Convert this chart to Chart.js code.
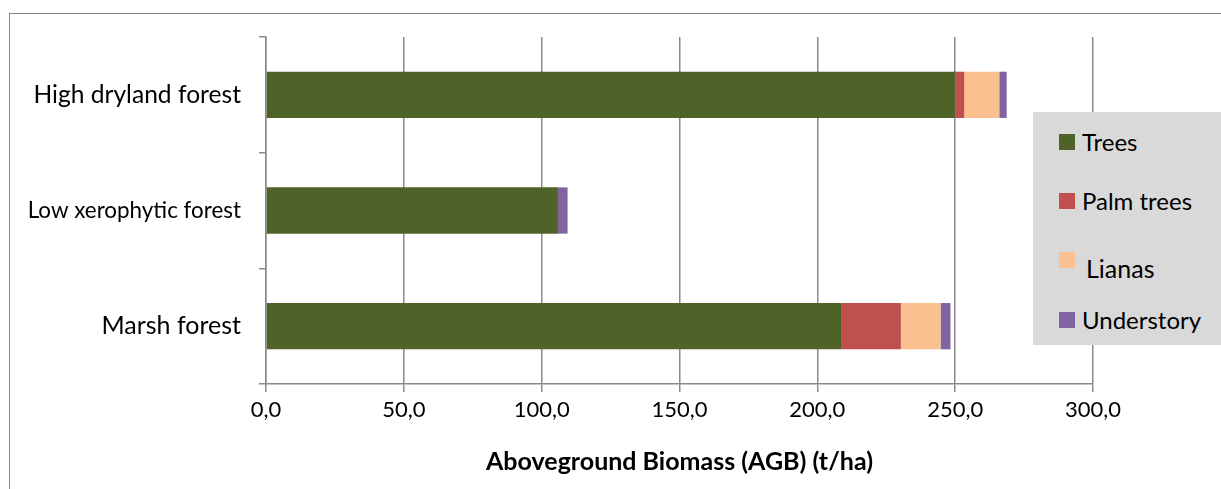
<!DOCTYPE html>
<html>
<head>
<meta charset="utf-8">
<script src="https://cdn.jsdelivr.net/npm/chart.js@4/dist/chart.umd.min.js"></script>
<style>
  html, body { margin: 0; padding: 0; background: #fff; }
  #wrap { position: relative; width: 1221px; height: 489px; overflow: hidden; }
  #frame { position: absolute; left: 9px; top: 13px; width: 1220px; height: 490px; border: 1px solid #868686; box-sizing: border-box; }
  #legend { position: absolute; left: 1033px; top: 112px; width: 190px; height: 233px; background: #d9d9d9; font-family: Lato, "Open Sans", sans-serif; color: #000; }
  .sw { position: absolute; left: 26px; width: 16px; height: 16px; }
  .lbl { position: absolute; line-height: 1; white-space: nowrap; }
</style>
</head>
<body>
<div id="wrap">
  <canvas id="chart" width="1221" height="489"></canvas>
  <div id="frame"></div>
  <div id="legend"></div>
</div>
<script>
const categories = ["High dryland forest", "Low xerophytic forest", "Marsh forest"];
const seriesNames = ["Trees", "Palm trees", "Lianas", "Understory"];
const trees = [250.0, 105.9, 208.6];
const palmTrees = [3.3, 0, 21.7];
const lianas = [12.7, 0, 14.4];
const understory = [2.7, 3.5, 3.6];
const colors = ["#4F6228", "#C0504D", "#FAC090", "#8064A2"];
const xTicks = [0, 50, 100, 150, 200, 250, 300];

const FONT = "Lato, 'Open Sans', sans-serif";
const values = [trees, palmTrees, lianas, understory];
const categorySizes = [24.6, 22.4, 25];

new Chart(document.getElementById("chart"), {
    type: "bar",
    data: {
        labels: categories,
        datasets: seriesNames.map((name, i) => ({
            label: name,
            data: values[i],
            backgroundColor: colors[i],
            borderWidth: 0,
            barPercentage: 0.8,
            categoryPercentage: 0.5
        }))
    },
    options: {
        indexAxis: "y",
        responsive: false,
        animation: false,
        layout: { padding: { top: 37, right: 128, left: 0, bottom: 0 } },
        plugins: { legend: { display: false }, tooltip: { enabled: false } },
        scales: {
            x: {
                stacked: true,
                min: 0,
                max: 300,
                afterBuildTicks: axis => { axis.ticks = xTicks.map(v => ({ value: v })); },
                afterFit: axis => { axis.height = 105; },
                grid: { color: "#8a8a8a", lineWidth: 1.5, tickLength: 8 },
                border: { color: "#8a8a8a", width: 1.5 },
                ticks: {
                    color: "#000",
                    padding: 5,
                    font: { family: FONT, size: 22 },
                    callback: v => v.toFixed(1).replace(".", ",")
                },
                title: {
                    display: true,
                    text: "Aboveground Biomass (AGB) (t/ha)",
                    color: "#000",
                    font: { family: FONT, size: 25, weight: "bold" },
                    padding: { top: 4, bottom: 12 }
                }
            },
            y: {
                stacked: true,
                afterFit: axis => { axis.width = 266; },
                grid: { drawOnChartArea: false, color: "#8a8a8a", lineWidth: 1.5, tickLength: 7, offset: true },
                border: { color: "#8a8a8a", width: 1.5 },
                ticks: {
                    color: "#000",
                    padding: 18,
                    font: ctx => ({ family: FONT, size: categorySizes[ctx.index] || 24 })
                }
            }
        }
    }
});

// legend box on grey background
const legend = document.getElementById("legend");
const swatchTops = [22, 81, 140, 200];
const textCenters = [30, 89, 156, 208];
const textLefts = [49, 49, 53, 49];
const legendSizes = [24, 24, 25, 24];
seriesNames.forEach((name, i) => {
    const sw = document.createElement("div");
    sw.className = "sw";
    sw.style.top = swatchTops[i] + "px";
    sw.style.background = colors[i];
    legend.appendChild(sw);
    const lbl = document.createElement("div");
    lbl.className = "lbl";
    lbl.style.left = textLefts[i] + "px";
    lbl.style.fontSize = legendSizes[i] + "px";
    lbl.style.top = (textCenters[i] - legendSizes[i] / 2) + "px";
    lbl.textContent = name;
    legend.appendChild(lbl);
});
</script>
</body>
</html>
